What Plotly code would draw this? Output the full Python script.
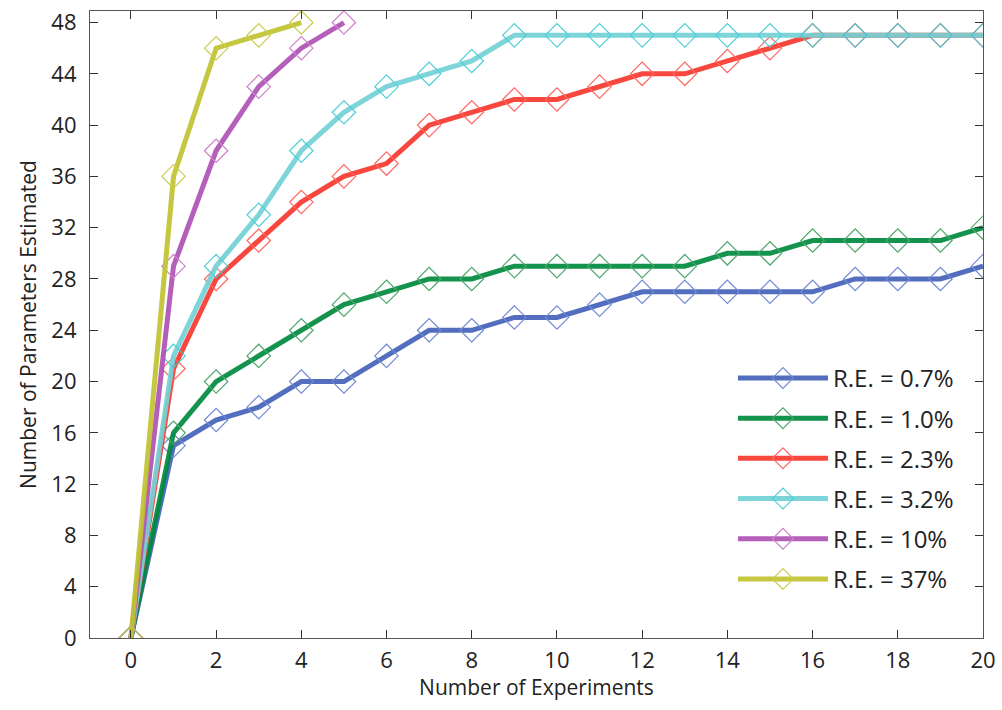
import plotly.graph_objects as go

experiments = list(range(0, 21))

re_07 = [0, 15, 17, 18, 20, 20, 22, 24, 24, 25, 25, 26, 27, 27, 27, 27, 27, 28, 28, 28, 29]
re_10 = [0, 16, 20, 22, 24, 26, 27, 28, 28, 29, 29, 29, 29, 29, 30, 30, 31, 31, 31, 31, 32]
re_23 = [0, 21, 28, 31, 34, 36, 37, 40, 41, 42, 42, 43, 44, 44, 45, 46, 47, 47, 47, 47, 47]
re_32 = [0, 22, 29, 33, 38, 41, 43, 44, 45, 47, 47, 47, 47, 47, 47, 47, 47, 47, 47, 47, 47]
re_100 = [0, 29, 38, 43, 46, 48]
re_370 = [0, 36, 46, 47, 48]

series_names = ["R.E. = 0.7%", "R.E. = 1.0%", "R.E. = 2.3%", "R.E. = 3.2%", "R.E. = 10%", "R.E. = 37%"]
series_values = [re_07, re_10, re_23, re_32, re_100, re_370]
line_colors = ["#4562BA", "#008A3E", "#F8382E", "#74D2D6", "#AE52B4", "#C2C331"]
marker_colors = ["#6680D0", "#40A060", "#FF5A55", "#40CCD4", "#C878C8", "#C8C840"]

x_ticks = list(range(0, 21, 2))
y_ticks = list(range(0, 49, 4))

fig = go.Figure()
for i, (name, vals) in enumerate(zip(series_names, series_values)):
    fig.add_trace(go.Scatter(
        x=experiments[:len(vals)], y=vals, name=name, mode="lines+markers",
        legendgroup=f"g{i}",
        line=dict(color=line_colors[i], width=5),
        marker=dict(symbol="diamond-open", size=18, color=marker_colors[i],
                    line=dict(width=1.2, color=marker_colors[i])),
        opacity=0.92,
    ))

axis_common = dict(
    showline=True, linecolor="#555555", linewidth=1.2, mirror="allticks",
    ticks="inside", ticklen=8, tickcolor="#333333", tickwidth=1,
    showgrid=False, zeroline=False, automargin=False,
    tickfont=dict(family="Open Sans, sans-serif", size=22, color="#222222"),
)

fig.update_layout(
    width=1002, height=710,
    paper_bgcolor="white", plot_bgcolor="white",
    margin=dict(l=90, r=19, t=11, b=72),
    font=dict(family="Open Sans, sans-serif", color="#222222"),
    xaxis=dict(range=[-0.96, 20], tickvals=x_ticks, ticklabelstandoff=2,
               title=dict(text="Number of Experiments", font=dict(size=21), standoff=4),
               **axis_common),
    yaxis=dict(range=[0, 48.9], tickvals=y_ticks, ticklabelstandoff=8,
               title=dict(text="Number of Parameters Estimated", font=dict(size=21), standoff=8),
               **axis_common),
    legend=dict(x=0.72, y=0.45, xanchor="left", yanchor="top",
                font=dict(size=24, color="#222222"), bgcolor="rgba(0,0,0,0)",
                traceorder="grouped", tracegroupgap=6, itemwidth=90),
)

fig.write_html("out.html", config={"displayModeBar": False},
               post_script="document.body.style.margin='0';document.body.style.overflow='hidden';")
